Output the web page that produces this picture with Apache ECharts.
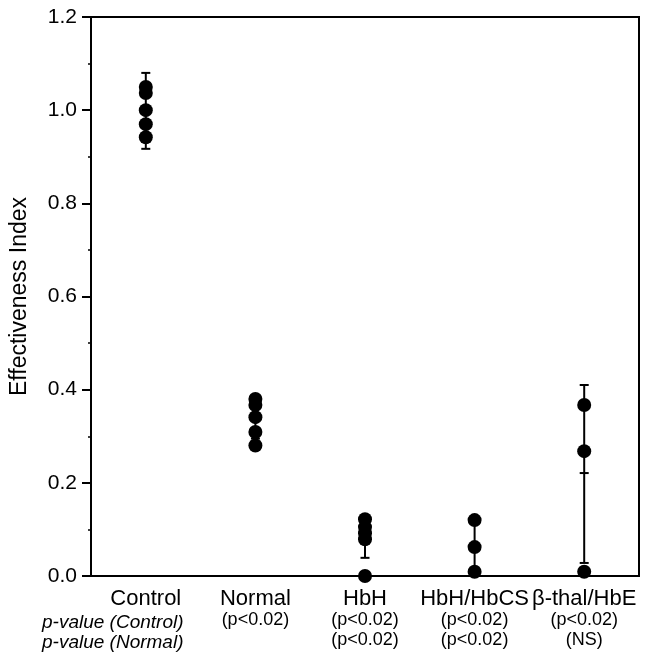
<!DOCTYPE html>
<html>
<head>
<meta charset="utf-8">
<script src="https://cdn.jsdelivr.net/npm/echarts@6/dist/echarts.min.js"></script>
<style>
  html, body { margin: 0; padding: 0; background: #fff; }
  #main { width: 649px; height: 656px; }
</style>
</head>
<body>
<div id="main"></div>
<script>
// groups along the x axis
var categories = ['Control', 'Normal', 'HbH', 'HbH/HbCS', 'β-thal/HbE'];
// p-value rows under each group
var pControl = ['', '(p<0.02)', '(p<0.02)', '(p<0.02)', '(p<0.02)'];
var pNormal = ['', '', '(p<0.02)', '(p<0.02)', '(NS)'];

// individual points per group
var controlVals = [1.050, 1.037, 1.000, 0.970, 0.942];
var normalVals = [0.380, 0.367, 0.341, 0.309, 0.280];
var hbhVals = [0.122, 0.105, 0.092, 0.079, 0.000];
var hbhcsVals = [0.120, 0.062, 0.009];
var bthalVals = [0.367, 0.268, 0.009];

// error bars (mean +/- SD), one per group
var errMean = [1.000, 0.335, 0.080, 0.064, 0.221];
var errLow = [0.917, 0.295, 0.039, 0.010, 0.028];
var errHigh = [1.080, 0.375, 0.120, 0.118, 0.410];

// y axis
var yMin = 0, yMax = 1.2, yStep = 0.2;

var chart = echarts.init(document.getElementById('main'));

var points = [];
[controlVals, normalVals, hbhVals, hbhcsVals, bthalVals].forEach(function(arr, i) {
  arr.forEach(function(v) {
    points.push([i, v]);
  });
});

var errData = errMean.map(function(m, i) {
  return [i, errLow[i], errHigh[i], m];
});

var FONT = '"Liberation Sans", Arial, Helvetica, sans-serif';

chart.setOption({
  animation: false,
  backgroundColor: '#fff',
  grid: {
    left: 90,
    right: 10,
    top: 17,
    bottom: 80,
    show: true,
    borderColor: '#000',
    borderWidth: 2,
    backgroundColor: 'transparent'
  },
  xAxis: {
    type: 'category',
    data: categories,
    boundaryGap: true,
    axisLine: { lineStyle: { color: '#000', width: 2 } },
    axisTick: { alignWithLabel: true, length: 5, lineStyle: { color: '#000', width: 2 } },
    splitLine: { show: false },
    axisLabel: {
      margin: 11,
      interval: 0,
      color: '#000',
      formatter: function(val, i) {
        var s = '{n|' + val + '}';
        if (pControl[i]) s += '\n{p|' + pControl[i] + '}';
        if (pNormal[i]) s += '\n{p|' + pNormal[i] + '}';
        return s;
      },
      rich: {
        n: { fontSize: 22, fontFamily: FONT, color: '#000', lineHeight: 23 },
        p: { fontSize: 18, fontFamily: FONT, color: '#000', lineHeight: 20 }
      }
    }
  },
  yAxis: {
    type: 'value',
    min: yMin,
    max: yMax,
    interval: yStep,
    name: 'Effectiveness Index',
    nameLocation: 'middle',
    nameGap: 60,
    nameTextStyle: { fontSize: 23, fontFamily: FONT, color: '#000' },
    axisLine: { show: true, lineStyle: { color: '#000', width: 2 } },
    axisTick: { show: true, length: 9, lineStyle: { color: '#000', width: 2 } },
    minorTick: { show: true, splitNumber: 2, length: 3, lineStyle: { color: '#000', width: 1.5 } },
    splitLine: { show: false },
    axisLabel: {
      margin: 14,
      fontSize: 21,
      fontFamily: FONT,
      color: '#000',
      formatter: function(v) { return v.toFixed(1); }
    }
  },
  graphic: [
    {
      type: 'text',
      left: 42,
      top: 613,
      style: { text: 'p-value (Control)', fontSize: 19, fontStyle: 'italic', fontFamily: FONT, fill: '#000' }
    },
    {
      type: 'text',
      left: 42,
      top: 633,
      style: { text: 'p-value (Normal)', fontSize: 19, fontStyle: 'italic', fontFamily: FONT, fill: '#000' }
    }
  ],
  series: [
    {
      type: 'custom',
      data: errData,
      z: 2,
      renderItem: function(params, api) {
        var x = api.value(0);
        var lo = api.coord([x, api.value(1)]);
        var hi = api.coord([x, api.value(2)]);
        var mid = api.coord([x, api.value(3)]);
        var hw = 4.5;
        var st = { stroke: '#000', lineWidth: 2 };
        return {
          type: 'group',
          children: [
            { type: 'line', shape: { x1: lo[0], y1: lo[1], x2: hi[0], y2: hi[1] }, style: st },
            { type: 'line', shape: { x1: lo[0] - hw, y1: lo[1], x2: lo[0] + hw, y2: lo[1] }, style: st },
            { type: 'line', shape: { x1: hi[0] - hw, y1: hi[1], x2: hi[0] + hw, y2: hi[1] }, style: st },
            { type: 'line', shape: { x1: mid[0] - hw, y1: mid[1], x2: mid[0] + hw, y2: mid[1] }, style: st }
          ]
        };
      }
    },
    {
      type: 'scatter',
      data: points,
      symbol: 'circle',
      symbolSize: 14,
      z: 3,
      itemStyle: { color: '#000', opacity: 1 }
    }
  ]
});
</script>
</body>
</html>
